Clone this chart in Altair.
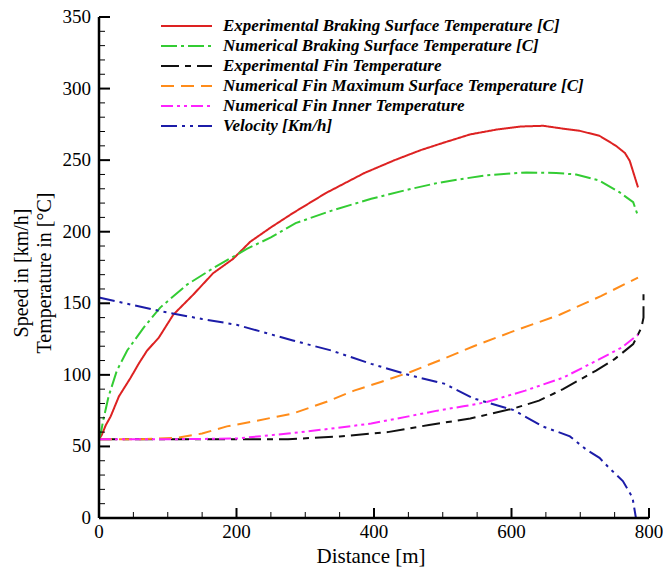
import altair as alt
import pandas as pd

series_names = [
    "Experimental Braking Surface Temperature [C]",
    "Numerical Braking Surface Temperature [C]",
    "Experimental Fin Temperature",
    "Numerical Fin Maximum Surface Temperature [C]",
    "Numerical Fin Inner Temperature",
    "Velocity [Km/h]",
]
colors = ["#dd2222", "#33cc33", "#111111", "#ff8c1a", "#ff22ff", "#1c1ca8"]
dashes = [[1, 0], [16, 4, 3, 4], [18, 6, 6, 6], [13, 7], [12, 4, 3, 4, 3, 4], [16, 5, 3, 5, 3, 5]]

exp_brake_d = [0, 4, 10, 17, 29, 46, 58, 70, 87, 108, 137, 166, 195, 220, 250, 282, 330, 386, 430,
               468, 500, 540, 580, 613, 646, 675, 699, 728, 752, 765, 772, 784]
exp_brake_v = [55, 58, 65, 71, 85, 98, 108, 117, 126, 142, 156, 171, 181, 193, 203, 213, 227, 241, 250,
               257, 262, 268, 271.5, 273.5, 274, 272, 270.5, 267, 260, 255, 249.5, 231]

num_brake_d = [0, 3, 6, 14, 26, 41, 65, 89, 128, 166, 215, 250, 286, 340, 396, 450, 492, 530, 564,
               622, 665, 694, 728, 757, 777, 784]
num_brake_v = [55, 60, 68, 85, 103, 117, 133, 147, 163, 174.5, 188, 196, 206, 215, 223, 229.5, 234, 237,
               239.5, 241.4, 241, 240, 235.7, 227.6, 220.6, 211]

exp_fin_d = [0, 100, 200, 275, 350, 420, 480, 540, 603, 640, 675, 723, 750, 777, 789, 792, 792]
exp_fin_v = [55, 55, 55, 55, 57, 60, 65, 69.5, 76.5, 82, 90, 103, 111, 121.5, 133, 140, 157]

num_fin_max_d = [0, 60, 113, 150, 186, 230, 282, 330, 371, 410, 453, 500, 545, 600, 670, 730, 784]
num_fin_max_v = [55, 55, 56, 59, 64, 68, 73, 81, 89, 95, 102, 111, 120, 130, 142, 155, 168]

num_fin_inner_d = [0, 100, 200, 275, 330, 396, 450, 492, 530, 564, 620, 675, 728, 760, 784]
num_fin_inner_v = [55, 55, 55.5, 59, 62, 66, 71, 75, 78, 81, 89, 98, 111, 119, 128]

velocity_d = [0, 89, 150, 200, 282, 338, 396, 453, 502, 545, 603, 646, 666, 685, 709, 728, 742,
              762, 776, 781]
velocity_v = [154, 144.6, 139, 135, 124, 117, 107.7, 99.6, 93.9, 83.5, 75.4, 63.8, 60.4, 57, 47.7,
              42, 35, 25.8, 14.3, 0]

x_major = [0, 200, 400, 600, 800]
x_minor = [d for d in range(0, 801, 50) if d % 200]
y_major = list(range(0, 351, 50))
y_minor = [v for v in range(0, 351, 10) if v % 50]
x_title = "Distance [m]"
y_title_lines = ["Speed in [km/h]", "Temperature in [°C]"]

all_d = [exp_brake_d, num_brake_d, exp_fin_d, num_fin_max_d, num_fin_inner_d, velocity_d]
all_v = [exp_brake_v, num_brake_v, exp_fin_v, num_fin_max_v, num_fin_inner_v, velocity_v]

rows = []
for name, ds, vs in zip(series_names, all_d, all_v):
    for i, (d, v) in enumerate(zip(ds, vs)):
        rows.append({"series": name, "distance": d, "value": v, "order": i})
df = pd.DataFrame(rows)

FONT = "Liberation Serif"
W, H = 550, 501
X0, X1 = x_major[0], x_major[-1]
Y0, Y1 = y_major[0], y_major[-1]
X_PER_PX = (X1 - X0) / W
Y_PER_PX = (Y1 - Y0) / H

xscale = alt.Scale(domain=[X0, X1], nice=False, zero=False)
yscale = alt.Scale(domain=[Y0, Y1], nice=False, zero=False)

legend = alt.Legend(
    title=None,
    orient="none",
    legendX=61,
    legendY=-1,
    symbolType="stroke",
    symbolSize=2600,
    symbolStrokeWidth=2,
    clipHeight=20,
    rowPadding=0,
    padding=0,
    labelOffset=10,
    labelFont=FONT,
    labelFontSize=17,
    labelFontStyle="italic",
    labelFontWeight="bold",
    labelColor="black",
    labelLimit=600,
)

lines = alt.Chart(df).mark_line(strokeWidth=2).encode(
    x=alt.X("distance:Q", scale=xscale, axis=None),
    y=alt.Y("value:Q", scale=yscale, axis=None),
    color=alt.Color("series:N", scale=alt.Scale(domain=series_names, range=colors), legend=legend),
    strokeDash=alt.StrokeDash("series:N", scale=alt.Scale(domain=series_names, range=dashes), legend=legend),
    order="order:Q",
)

# One segment table for the axis frame: domain lines plus inward major/minor ticks
seg = []
seg.append({"x": X0, "x2": X0, "y": Y0, "y2": Y1, "w": 2.5})
seg.append({"x": X0, "x2": X1, "y": Y0, "y2": Y0, "w": 2.5})
for v in x_major:
    seg.append({"x": v, "x2": v, "y": Y0, "y2": Y0 + 10 * Y_PER_PX, "w": 2})
for v in x_minor:
    seg.append({"x": v, "x2": v, "y": Y0, "y2": Y0 + 6 * Y_PER_PX, "w": 1})
for v in y_major:
    seg.append({"x": X0, "x2": X0 + 11 * X_PER_PX, "y": v, "y2": v, "w": 2})
for v in y_minor:
    seg.append({"x": X0, "x2": X0 + 6 * X_PER_PX, "y": v, "y2": v, "w": 1})
seg_df = pd.DataFrame(seg)

frame = alt.Chart(seg_df).mark_rule(color="black").encode(
    x=alt.X("x:Q", scale=xscale, axis=None),
    x2="x2:Q",
    y=alt.Y("y:Q", scale=yscale, axis=None),
    y2="y2:Q",
    strokeWidth=alt.StrokeWidth("w:Q", scale=None),
)

x_labels = alt.Chart(
    pd.DataFrame({"distance": x_major, "label": [str(v) for v in x_major]})
).mark_text(font=FONT, fontSize=19, color="black", baseline="top", align="center").encode(
    x=alt.X("distance:Q", scale=xscale, axis=None),
    y=alt.value(H + 5),
    text="label:N",
)

y_labels = alt.Chart(
    pd.DataFrame({"value": y_major, "label": [str(v) for v in y_major]})
).mark_text(font=FONT, fontSize=19, color="black", baseline="middle", align="right").encode(
    y=alt.Y("value:Q", scale=yscale, axis=None),
    x=alt.value(-8),
    text="label:N",
)

x_title_mark = alt.Chart(pd.DataFrame({"t": [x_title]})).mark_text(
    font=FONT, fontSize=21, color="black", baseline="middle", align="center"
).encode(x=alt.value(272), y=alt.value(H + 39), text="t:N")

y_title_marks = [
    alt.Chart(pd.DataFrame({"t": [line]})).mark_text(
        font=FONT, fontSize=20, color="black", baseline="middle", align="center", angle=270
    ).encode(x=alt.value(xpos), y=alt.value(256), text="t:N")
    for line, xpos in zip(y_title_lines, [-77, -54])
]

layers = [
    lines,
    frame,
    x_labels,
    y_labels,
    x_title_mark,
    *y_title_marks,
]

chart = (
    alt.layer(*layers)
    .properties(
        width=W,
        height=H,
        padding={"left": 91, "top": 9, "right": 14, "bottom": 49},
        autosize=alt.AutoSizeParams(type="none"),
        background="white",
    )
    .configure_view(stroke=None)
)

chart.save("out.html", embed_options={"renderer": "svg", "actions": False})
